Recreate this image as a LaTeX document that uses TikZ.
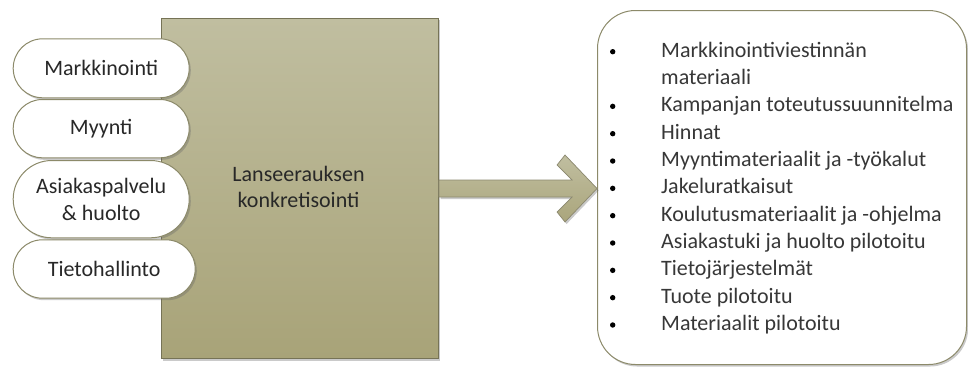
\documentclass[tikz,border=0pt]{standalone}
\usepackage{fontspec}
\setmainfont{Carlito}
\usetikzlibrary{shadows}
\definecolor{boxtop}{RGB}{192,190,160}
\definecolor{boxbot}{RGB}{168,163,120}
\definecolor{boxline}{RGB}{118,115,86}
\definecolor{pillline}{RGB}{140,138,106}
\definecolor{txt}{RGB}{40,40,40}
\definecolor{listtxt}{RGB}{55,55,55}
\begin{document}
\begin{tikzpicture}[x=1pt,y=-1pt,
  every node/.style={font=\fontsize{22}{26.7}\selectfont},
  softshadow/.style={drop shadow={shadow xshift=1.6pt,shadow yshift=-2pt,fill=black!60,opacity=0.35}},
  bigbox/.style={rectangle,draw=boxline,line width=0.9pt,top color=boxtop,bottom color=boxbot,softshadow,inner sep=0},
  pill/.style={rectangle,draw=pillline,line width=1pt,fill=white,softshadow,inner sep=0,text=txt,align=center},
  listbox/.style={rectangle,rounded corners=38pt,draw=pillline,line width=1pt,fill=white,softshadow,inner sep=0},
  arrowshape/.style={draw=boxline!85,line width=0.7pt,top color=boxtop,bottom color=boxbot!90!boxtop,softshadow},
  listtext/.style={inner sep=0,text=listtxt,font=\fontsize{22}{27.33}\selectfont},
  bulletdot/.style={circle,fill=black,inner sep=0,minimum size=5.4pt}
]
\useasboundingbox (0,0) rectangle (968,367);

% central box
\node[bigbox,minimum width=277pt,minimum height=340.6pt,anchor=north west] (big) at (161,17.7) {};
\node[inner sep=0,text=txt,align=center] (lans) at (298.5,187) {Lanseerauksen\\konkretisointi};

% pills
\node[pill,rounded corners=29.5pt,minimum width=176pt,minimum height=59pt,anchor=north west] (mark) at (12.7,38.3) {Markkinointi};
\node[pill,rounded corners=29.1pt,minimum width=176pt,minimum height=58.3pt,anchor=north west] (myyn) at (12.7,99) {Myynti};
\node[pill,rounded corners=38.6pt,minimum width=176pt,minimum height=77.3pt,anchor=north west] (asia) at (12.7,160) {Asiakaspalvelu\\\& huolto};
\node[pill,rounded corners=29.2pt,minimum width=182pt,minimum height=58.4pt,anchor=north west] (tieto) at (12.7,239.3) {Tietohallinto};

% result box
\node[listbox,minimum width=369pt,minimum height=354pt,anchor=north west] (res) at (597,10) {};

% block arrow from central box to result box
\coordinate (s1) at (big.east |- 0,180);
\coordinate (s2) at (big.east |- 0,197);
\coordinate (tip) at (res.west |- 0,188.5);
\path[arrowshape] (s1) -- (572,180) -- (557,165) -- (565,155) -- (tip) -- (565,222) -- (557,212) -- (572,197) -- (s2) -- cycle;

% list
\foreach \t/\b [count=\i from 0] in {Markkinointiviestinnän/1,materiaali/0,Kampanjan toteutussuunnitelma/1,Hinnat/1,Myyntimateriaalit ja -työkalut/1,Jakeluratkaisut/1,Koulutusmateriaalit ja -ohjelma/1,Asiakastuki ja huolto pilotoitu/1,Tietojärjestelmät/1,Tuote pilotoitu/1,Materiaalit pilotoitu/1}{
  \node[listtext,anchor=base west] (l\i) at (661,{57.3+27.33*\i}) {\t};
  \ifnum\b=1
    \node[bulletdot] (b\i) at (612.7,{51.7+27.33*\i}) {};
  \fi
}
\end{tikzpicture}
\end{document}
